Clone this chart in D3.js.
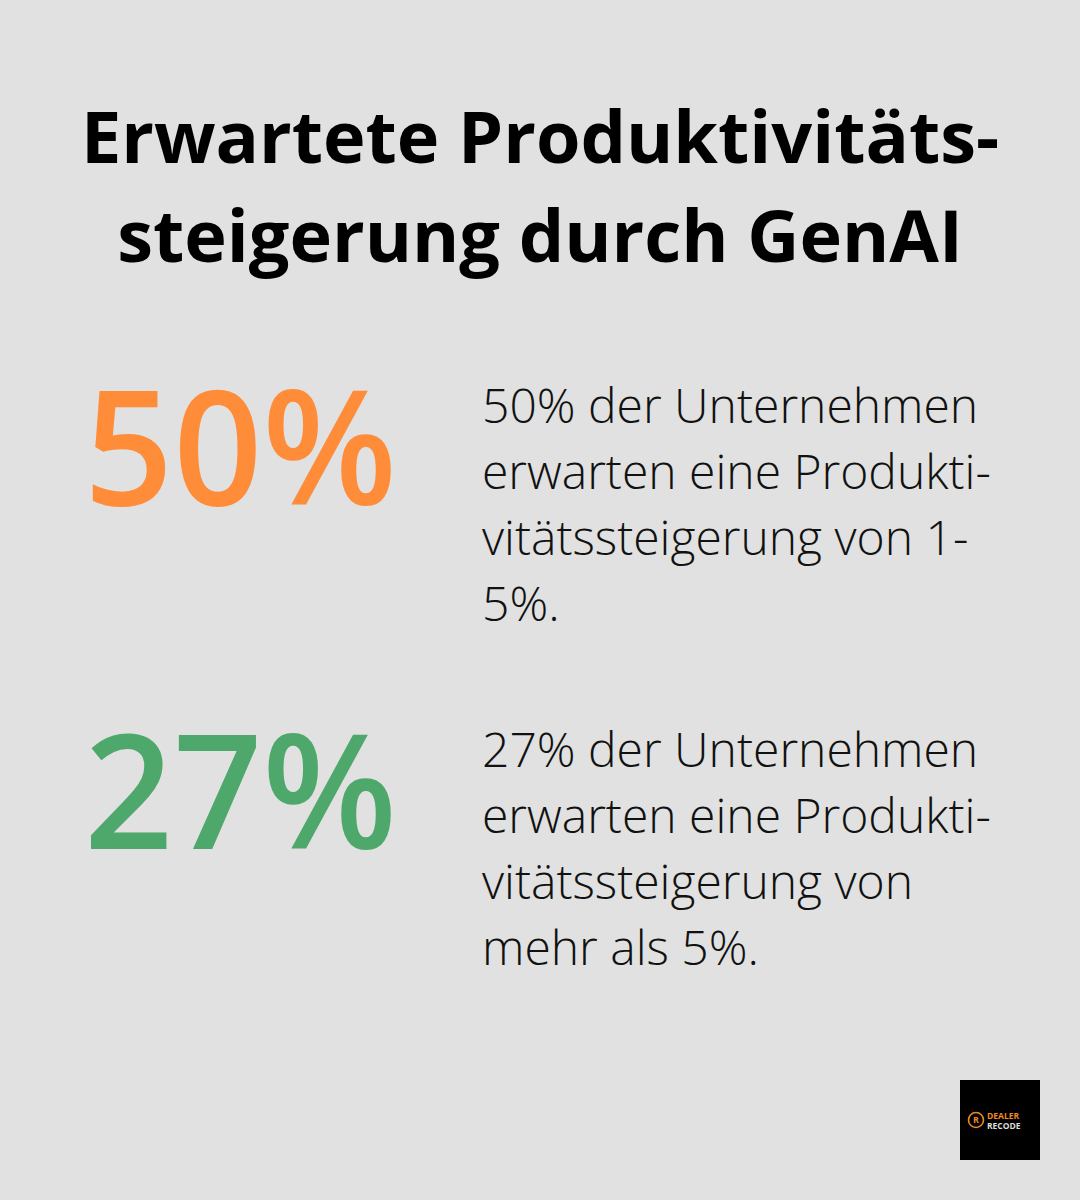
<!DOCTYPE html>
<html><head><meta charset="utf-8">
<script src="https://cdn.jsdelivr.net/npm/d3@7"></script>
<style>body{margin:0;background:#e0e1e0}</style>
</head><body>
<script>
// Stat card: two headline percentages with explanatory text
const titleLines = ["Erwartete Produktivitäts-", "steigerung durch GenAI"];
const values = [50, 27];
const colors = ["#ff8c38", "#4ea86b"];
const descriptions = [
  ["50% der Unternehmen", "erwarten eine Produkti-", "vitätssteigerung von 1-", "5%."],
  ["27% der Unternehmen", "erwarten eine Produkti-", "vitätssteigerung von", "mehr als 5%."],
];

const W = 1080, H = 1200;
const font = "'Open Sans',sans-serif";
const svg = d3.select("body").append("svg").attr("width", W).attr("height", H);
svg.append("rect").attr("width", W).attr("height", H).attr("fill", "#e0e1e0");

svg.selectAll("text.title").data(titleLines).enter().append("text")
  .attr("class", "title")
  .attr("x", W / 2).attr("y", (d, i) => 163 + i * 99)
  .attr("text-anchor", "middle")
  .style("font", `700 72px ${font}`).style("fill", "#000")
  .text((d) => d);

const y = d3.scaleBand().domain(d3.range(values.length)).range([360, 1048]);

const row = svg.selectAll("g.stat").data(values).enter().append("g")
  .attr("class", "stat")
  .attr("transform", (d, i) => `translate(0,${y(i)})`);

row.append("text")
  .attr("x", 84).attr("y", 145)
  .attr("textLength", 313).attr("lengthAdjust", "spacingAndGlyphs")
  .style("font", `600 160px ${font}`)
  .style("fill", (d, i) => colors[i])
  .text((d) => `${d}%`);

row.each(function (d, i) {
  d3.select(this).selectAll("text.desc").data(descriptions[i]).enter().append("text")
    .attr("class", "desc")
    .attr("x", 482).attr("y", (t, j) => 63 + j * 66)
    .style("font", `300 48px ${font}`).style("fill", "#111")
    .text((t) => t);
});

// logo
const logo = svg.append("g").attr("transform", "translate(960,1080)");
logo.append("rect").attr("width", 80).attr("height", 80).attr("fill", "#000");
logo.append("circle").attr("cx", 16).attr("cy", 40).attr("r", 7.5)
  .attr("fill", "none").attr("stroke", "#f08a1c").attr("stroke-width", 1.6);
logo.append("text").attr("x", 16).attr("y", 43).attr("text-anchor", "middle")
  .style("font", `700 9px ${font}`).style("fill", "#f08a1c").text("R");
logo.append("text").attr("x", 27).attr("y", 38.5)
  .style("font", `700 8.5px ${font}`).style("fill", "#f08a1c").text("DEALER");
logo.append("text").attr("x", 27).attr("y", 48.5)
  .style("font", `700 8.5px ${font}`).style("fill", "#ddd").text("RECODE");
</script>
</body></html>
